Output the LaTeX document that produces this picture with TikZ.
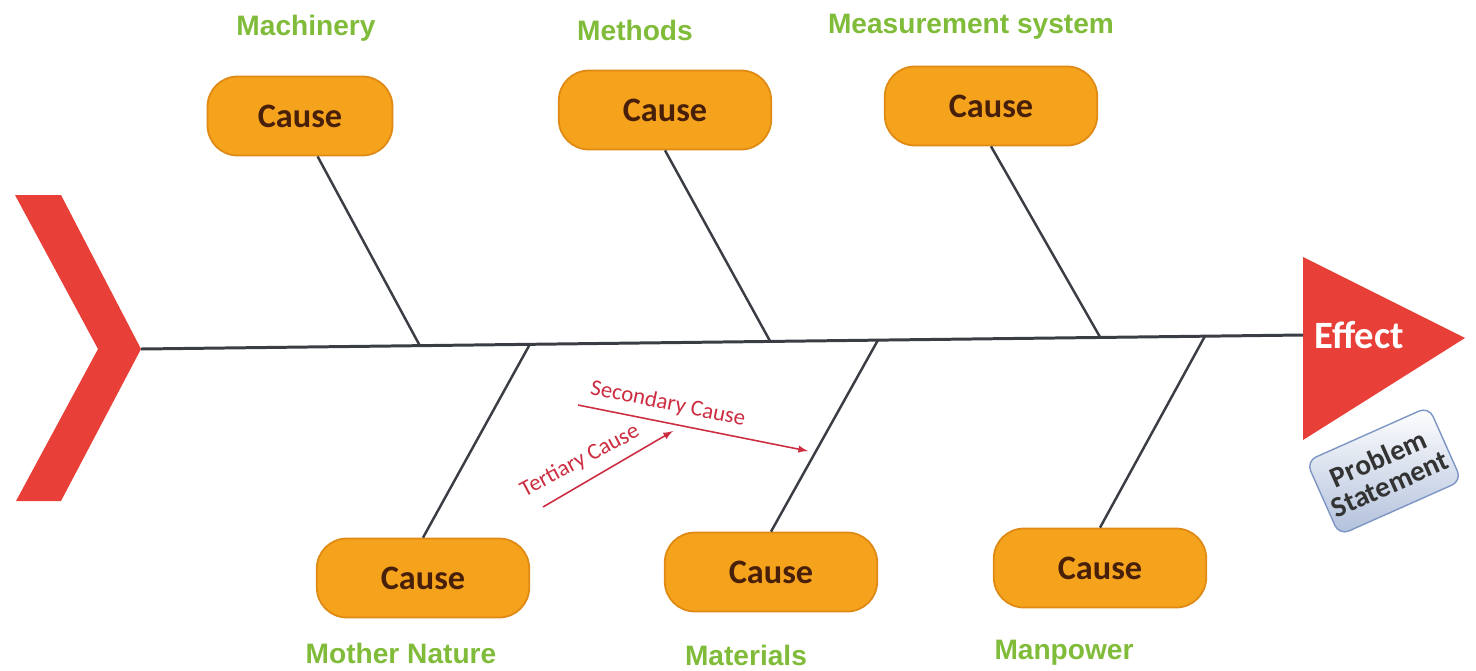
\documentclass[tikz,border=0pt]{standalone}
\usepackage{fontspec}
\setmainfont{Liberation Sans}
\newfontfamily\calfont{Carlito}
\usepackage{tikz}
\usetikzlibrary{arrows,positioning}
\definecolor{causeorange}{RGB}{245,162,28}
\definecolor{causeedge}{RGB}{222,138,20}
\definecolor{causetext}{RGB}{72,32,10}
\definecolor{labelgreen}{RGB}{128,188,58}
\definecolor{effectred}{RGB}{232,64,56}
\definecolor{arrowred}{RGB}{205,45,65}
\definecolor{boneline}{RGB}{58,62,68}
\definecolor{stateedge}{RGB}{125,150,195}

\begin{document}
\begin{tikzpicture}[x=0.02cm,y=-0.02cm,
		cause/.style={draw=causeedge,line width=1pt,fill=causeorange,rounded corners=0.6cm,minimum width=4.25cm,minimum height=1.58cm,text=causetext,font=\calfont\bfseries\fontsize{19.5}{22}\selectfont},
		category/.style={text=labelgreen,font=\bfseries\fontsize{16}{18}\selectfont},
		bone/.style={draw=boneline,line width=1.4pt},
		subcause/.style={draw=arrowred,line width=0.9pt,-latex},
		subtext/.style={text=arrowred,font=\calfont\fontsize{13}{14}\selectfont,inner sep=0pt}]
		\useasboundingbox (0,0) rectangle (1476,670);
		\fill[effectred] (15,195) -- (61,195) -- (141,349) -- (61,501) -- (16,501) -- (98,349) -- cycle;
		\fill[effectred] (1303,257) -- (1465,338) -- (1303,440) -- cycle;
		\coordinate (tail) at (141,349);
		\coordinate (head) at (1303,335);
		\draw[bone,line width=1.7pt] (tail) -- (head);
		\node[text=white,font=\calfont\bfseries\fontsize{22}{24}\selectfont] (effect) at (1359,335) {Effect};
		\node[draw=stateedge,line width=0.8pt,top color=white,bottom color=stateedge!60,rounded corners=6pt,minimum width=2.68cm,minimum height=1.62cm,rotate=24,align=center,text=black!80,font=\calfont\bfseries\fontsize{16.5}{16}\selectfont,inner sep=1pt] (problem) at (1384,471) {Problem\\Statement};
		\node[cause,minimum width=3.7cm] (c1) at (300,116) {Cause};
		\node[cause] (c2) at (665,110) {Cause};
		\node[cause] (c3) at (991,106) {Cause};
		\node[cause] (c4) at (423,578) {Cause};
		\node[cause] (c5) at (771,572) {Cause};
		\node[cause] (c6) at (1100,568) {Cause};
		\node[category] (machinery) at (306,28) {Machinery};
		\node[category] (methods) at (635,30) {Methods};
		\node[category] (measurement) at (971,27) {Measurement system};
		\node[category] (nature) at (401,653) {Mother Nature};
		\node[category] (materials) at (746,655) {Materials};
		\node[category] (manpower) at (1064,653) {Manpower};
		\coordinate (j1) at (420,346);
		\coordinate (j2) at (770,341);
		\coordinate (j3) at (1100,337);
		\coordinate (j4) at (530,344);
		\coordinate (j5) at (878,340);
		\coordinate (j6) at (1205,336);
		\draw[bone] ([xshift=10pt]c1.south) -- (j1);
		\draw[bone] (c2.south) -- (j2);
		\draw[bone] (c3.south) -- (j3);
		\draw[bone] (c4.north) -- (j4);
		\draw[bone] (c5.north) -- (j5);
		\draw[bone] (c6.north) -- (j6);
		\coordinate (s1) at (578,405);
		\coordinate (s2) at (808,451);
		\coordinate (t1) at (543,507);
		\coordinate (t2) at (673,431);
		\draw[subcause] (s1) -- (s2);
		\draw[subcause] (t1) -- (t2);
		\node[subtext,rotate=-11.5] (secondary) at (668,404) {Secondary Cause};
		\node[subtext,rotate=28] (tertiary) at (580,461) {Tertiary Cause};
	\end{tikzpicture}
\end{document}
